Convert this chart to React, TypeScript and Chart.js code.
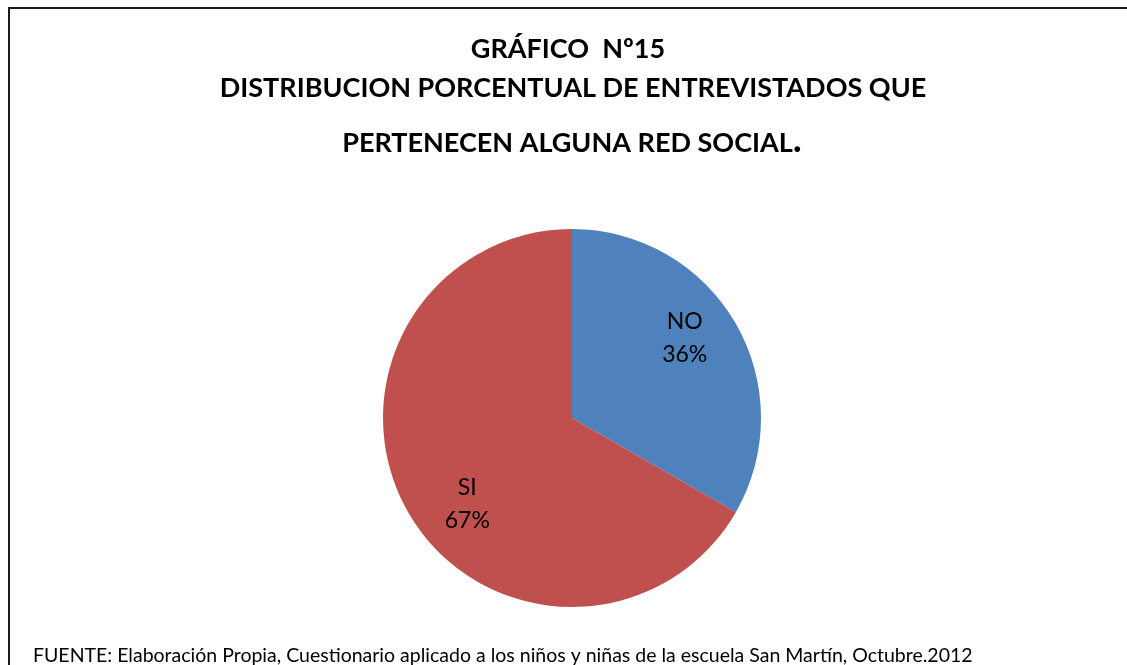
import React, { useEffect, useRef } from "react";
import { Chart, registerables } from "chart.js";

Chart.register(...registerables);

const categories = ["NO", "SI"];
const values = [33.3, 66.7];
const shownPercents = ["36%", "67%"];
const colors = ["#4F81BD", "#C0504D"];
const titleLines = [
  "GRÁFICO  Nº15",
  "DISTRIBUCION PORCENTUAL DE ENTREVISTADOS QUE",
  "PERTENECEN ALGUNA RED SOCIAL",
];
const footerText =
  "FUENTE: Elaboración Propia, Cuestionario aplicado a los niños y niñas de la escuela San Martín, Octubre.2012";

const W = 1127;
const H = 665;

const decorPlugin = {
  id: "decor",
  beforeDraw(chart: any) {
    const ctx = chart.ctx;
    ctx.save();
    ctx.fillStyle = "#ffffff";
    ctx.fillRect(0, 0, W, H);
    ctx.strokeStyle = "#1c1c1c";
    ctx.lineWidth = 2;
    ctx.beginPath();
    ctx.moveTo(9, H + 2);
    ctx.lineTo(9, 8);
    ctx.lineTo(W + 2, 8);
    ctx.stroke();
    ctx.restore();
  },
  afterDraw(chart: any) {
    const ctx = chart.ctx;
    ctx.save();
    ctx.fillStyle = "#000000";
    ctx.textAlign = "center";
    ctx.textBaseline = "alphabetic";
    ctx.font = "bold 27px Lato";
    const cx = 568;
    ctx.fillText(titleLines[0], cx, 58);
    ctx.fillText(titleLines[1], 573, 97);
    // third line with a larger period
    const t3 = titleLines[2];
    ctx.font = "bold 27px Lato";
    const w3 = ctx.measureText(t3).width;
    ctx.font = "bold 38px Lato";
    const wp = ctx.measureText(".").width;
    const start = 572 - (w3 + wp) / 2;
    ctx.textAlign = "left";
    ctx.font = "bold 27px Lato";
    ctx.fillText(t3, start, 152);
    ctx.font = "bold 38px Lato";
    ctx.fillText(".", start + w3, 152);

    // footer
    ctx.font = "19.5px Lato";
    ctx.textAlign = "left";
    ctx.fillText(footerText, 33, 662);

    // data labels
    const meta = chart.getDatasetMeta(0);
    ctx.font = "23px Lato";
    ctx.textAlign = "center";
    meta.data.forEach((arc: any, i: number) => {
      const p = arc.getProps(["x", "y", "startAngle", "endAngle", "outerRadius"], true);
      const mid = (p.startAngle + p.endAngle) / 2 - 0.13;
      const r = p.outerRadius * 0.725;
      const lx = p.x + Math.cos(mid) * r + 4;
      const ly = p.y + Math.sin(mid) * r + 2;
      ctx.fillText(categories[i], lx, ly - 8);
      ctx.fillText(shownPercents[i], lx, ly + 25);
    });
    ctx.restore();
  },
};

export default function App() {
  const ref = useRef<HTMLCanvasElement>(null);
  useEffect(() => {
    if (!ref.current) return;
    const chart = new Chart(ref.current, {
      type: "pie",
      data: {
        labels: categories,
        datasets: [
          {
            data: values,
            backgroundColor: colors,
            borderWidth: 0,
          },
        ],
      },
      options: {
        responsive: false,
        animation: false,
        layout: { padding: { left: 383, right: 366, top: 229, bottom: 58 } },
        plugins: {
          legend: { display: false },
          tooltip: { enabled: false },
          title: { display: false },
        },
      },
      plugins: [decorPlugin],
    });
    return () => chart.destroy();
  }, []);
  return (
    <div style={{ position: "fixed", left: 0, top: 0, width: W, height: H, background: "#fff" }}>
      <canvas ref={ref} width={W} height={H} style={{ width: W, height: H, display: "block" }} />
    </div>
  );
}
